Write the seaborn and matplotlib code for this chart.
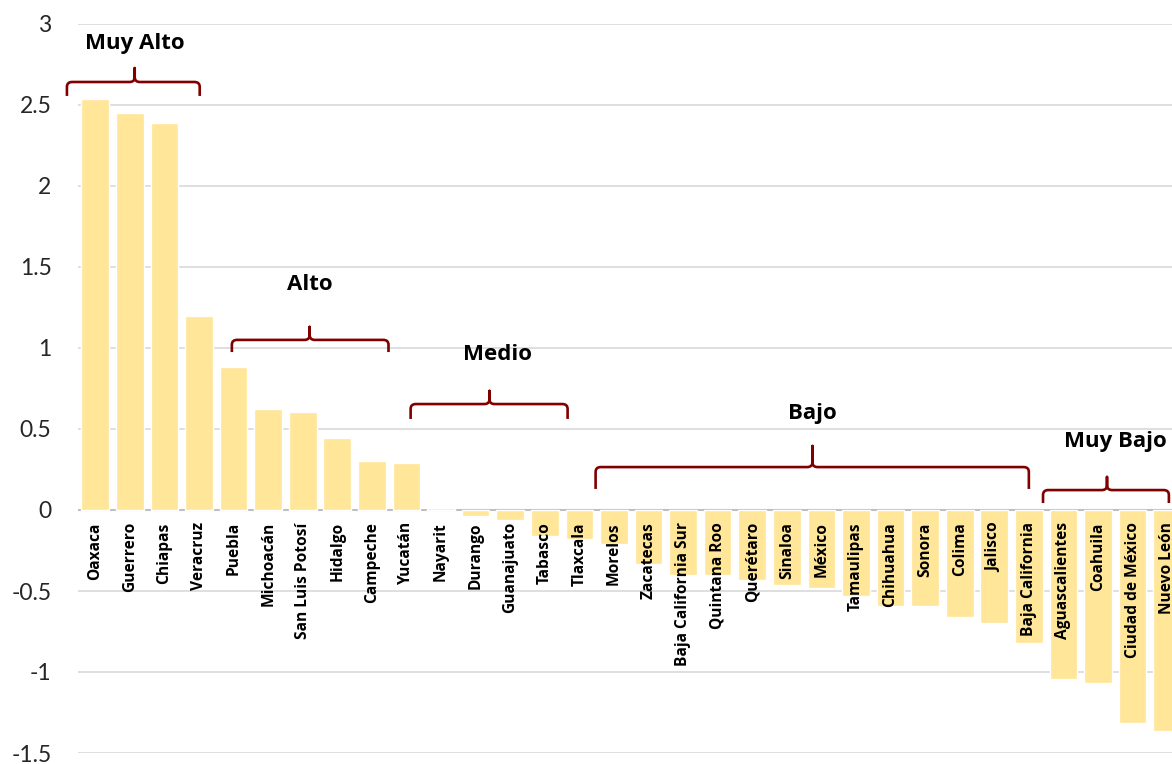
import pandas as pd
import matplotlib.pyplot as plt
import seaborn as sns
from matplotlib.path import Path
from matplotlib.patches import PathPatch

# Data
estados = ['Oaxaca', 'Guerrero', 'Chiapas', 'Veracruz', 'Puebla', 'Michoacán',
           'San Luis Potosí', 'Hidalgo', 'Campeche', 'Yucatán', 'Nayarit', 'Durango',
           'Guanajuato', 'Tabasco', 'Tlaxcala', 'Morelos', 'Zacatecas',
           'Baja California Sur', 'Quintana Roo', 'Querétaro', 'Sinaloa', 'México',
           'Tamaulipas', 'Chihuahua', 'Sonora', 'Colima', 'Jalisco', 'Baja California',
           'Aguascalientes', 'Coahuila', 'Ciudad de México', 'Nuevo León']
valores = [2.537, 2.45, 2.39, 1.198, 0.88, 0.623, 0.607, 0.446, 0.302, 0.292,
           0.01, -0.035, -0.062, -0.158, -0.179, -0.21, -0.331,
           -0.401, -0.401, -0.43, -0.463, -0.484,
           -0.531, -0.591, -0.593, -0.66, -0.695, -0.821,
           -1.041, -1.068, -1.317, -1.364]
grupos = ['Muy Alto', 'Alto', 'Medio', 'Bajo', 'Muy Bajo']
y_ticks = [-1.5, -1, -0.5, 0, 0.5, 1, 1.5, 2, 2.5, 3]
y_tick_labels = ['-1.5', '-1', '-0.5', '0', '0.5', '1', '1.5', '2', '2.5', '3']

df = pd.DataFrame({'Estado': estados, 'Valor': valores})

sns.set_style('white')
plt.rcParams['font.family'] = ['Lato', 'DejaVu Sans']
bold_font = ['Open Sans', 'DejaVu Sans']

fig = plt.figure(figsize=(11.72, 7.64), dpi=100)
ax = fig.add_axes([78 / 1172, 1 - 753 / 764, 1 - 78 / 1172, (753 - 24) / 764])

sns.barplot(data=df, x='Estado', y='Valor', color='#FFE699', saturation=1,
            width=0.8, ax=ax, zorder=2)

ax.set_ylim(-1.5, 3)
ax.set_xlim(-0.5, 31.14)
ax.set_yticks(y_ticks)
ax.set_yticklabels(y_tick_labels, fontsize=16.5)
ax.yaxis.grid(True, color='#D9D9D9', linewidth=1.2, zorder=0)
ax.set_axisbelow(True)
ax.axhline(0, color='#BFBFBF', linewidth=1.5, zorder=1)
ax.tick_params(axis='y', length=0, pad=19)
ax.set_xticks([])
ax.set_xlabel('')
ax.set_ylabel('')
for s in ax.spines.values():
    s.set_visible(False)

# State labels just under the zero line
for i, name in enumerate(estados):
    ax.text(i, -0.075, name, rotation=90, ha='center', va='top', family=bold_font,
            fontsize=11.2, fontweight='bold', color='black', zorder=3, clip_on=True)

# Curly brackets: x0, x1, x of spike, horizontal y, end y, spike y, label x, label y
llaves = [
    (-0.82, 3.02, 1.14, 2.642, 2.556, 2.728, 1.14, 2.877),
    (3.95, 8.48, 6.2, 1.05, 0.975, 1.13, 6.2, 1.395),
    (9.12, 13.66, 11.4, 0.654, 0.562, 0.735, 11.63, 0.957),
    (14.47, 27.0, 20.74, 0.265, 0.13, 0.395, 20.74, 0.593),
    (27.41, 31.05, 29.26, 0.123, 0.043, 0.204, 29.5, 0.42),
]
rx, ry = 0.15, 0.03
for grupo, (x0, x1, xm, yh, yb, ys, tx, ty) in zip(grupos, llaves):
    verts = [(x0, yb), (x0, yh - ry), (x0, yh), (x0 + rx, yh),
             (xm - rx, yh), (xm, yh), (xm, yh + ry), (xm, ys),
             (xm, yh + ry), (xm, yh), (xm + rx, yh),
             (x1 - rx, yh), (x1, yh), (x1, yh - ry), (x1, yb)]
    codes = [Path.MOVETO, Path.LINETO, Path.CURVE3, Path.CURVE3,
             Path.LINETO, Path.CURVE3, Path.CURVE3, Path.LINETO,
             Path.LINETO, Path.CURVE3, Path.CURVE3,
             Path.LINETO, Path.CURVE3, Path.CURVE3, Path.LINETO]
    ax.add_patch(PathPatch(Path(verts, codes), fill=False, edgecolor='#800000',
                           linewidth=1.9, capstyle='butt', joinstyle='round',
                           clip_on=False, zorder=4))
    ax.text(tx, ty, grupo, ha='center', va='center', family=bold_font, fontsize=16,
            fontweight='bold', color='black', zorder=4, clip_on=False)

fig.savefig('out.png', dpi=100)
